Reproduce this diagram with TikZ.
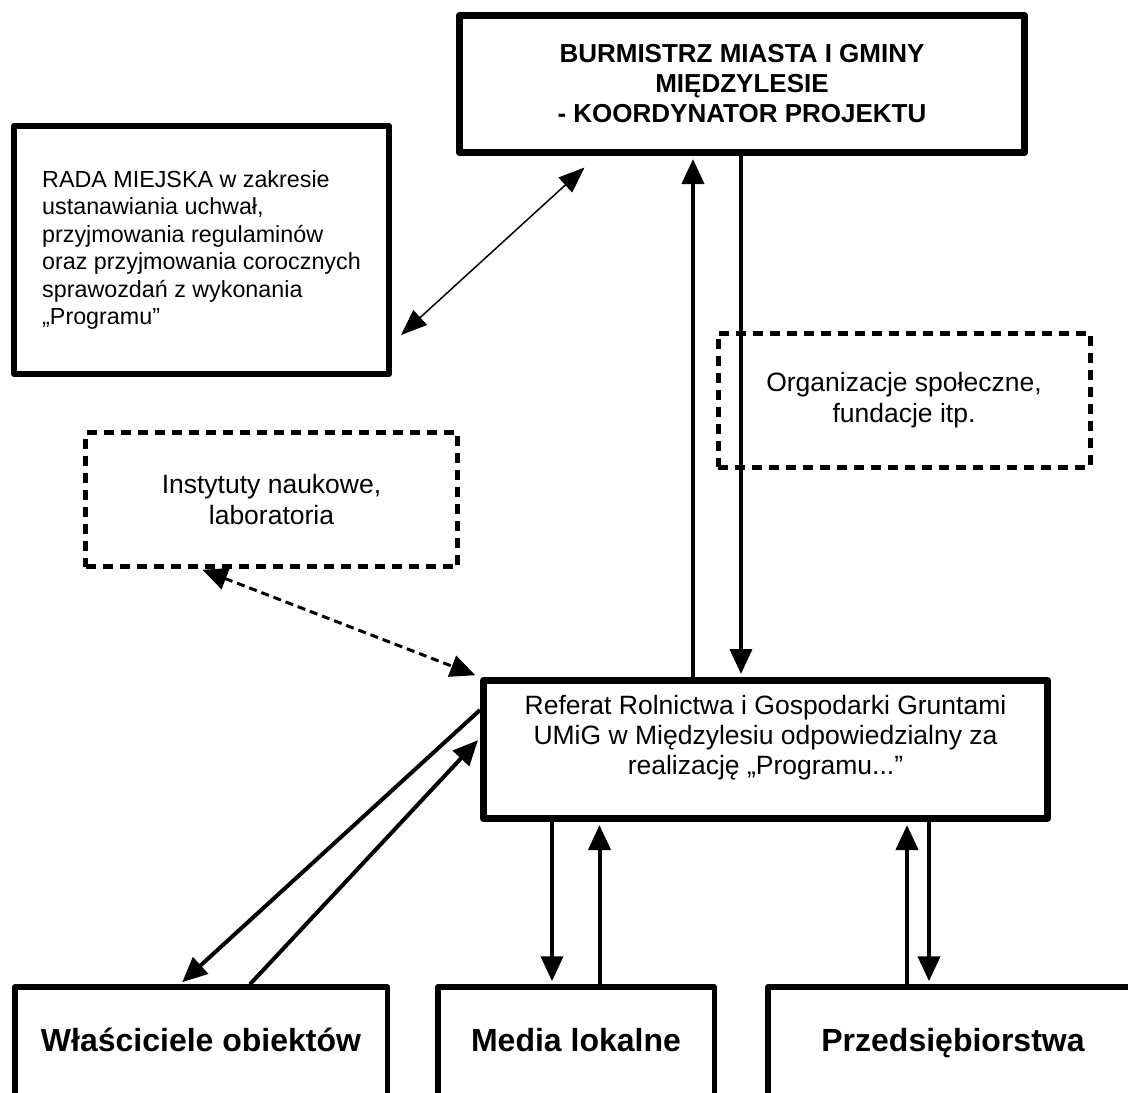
\documentclass[tikz,border=0pt]{standalone}
\usepackage{fontspec}
\setmainfont{Liberation Sans}
\usetikzlibrary{arrows.meta,calc}

\begin{document}
\begin{tikzpicture}[
    x=1pt, y=-1pt,
    >={Triangle[length=25pt,width=22pt]},
    box/.style={draw, line width=#1, line join=round, align=center, inner sep=0pt},
    dotbox/.style={draw, line width=5pt, dash pattern=on 10pt off 7pt,
      align=center, inner sep=0pt, minimum width=372pt, minimum height=134pt,
      font=\fontsize{26.5}{31}\selectfont},
    lowbox/.style={box=5.5pt, minimum height=113pt, text height=23pt, text depth=7pt,
      font=\bfseries\fontsize{32}{36}\selectfont},
    arr/.style={->, line width=4pt, shorten >=3pt}
  ]
  \useasboundingbox (0,0) rectangle (1128,1093);
  \clip (0,0) rectangle (1128,1093);
  % Top
  \node[box=7pt, minimum width=565pt, minimum height=137pt,
    font=\bfseries\fontsize{26}{30}\selectfont] (bur) at (742,84)
    {BURMISTRZ MIASTA I GMINY\\MIĘDZYLESIE\\- KOORDYNATOR PROJEKTU};
  \node[box=6pt, minimum width=375pt, minimum height=248pt,
    align=left, font=\fontsize{23.3}{27.5}\selectfont] (rada) at (201.5,250)
    {RADA MIEJSKA w zakresie\\ustanawiania uchwał,\\przyjmowania regulaminów\\oraz przyjmowania corocznych\\sprawozdań z wykonania\\„Programu”};
  % Dashed boxes
  \node[dotbox] (org) at (904,400) {Organizacje społeczne,\\fundacje itp.};
  \node[dotbox] (inst) at (271.5,499.5) {Instytuty naukowe,\\laboratoria};
  % Middle
  \node[box=7pt, minimum width=564pt, minimum height=138pt, text depth=29pt,
    font=\fontsize{26.5}{30}\selectfont] (ref) at (765.5,749.5)
    {Referat Rolnictwa i Gospodarki Gruntami\\UMiG w Międzylesiu odpowiedzialny za\\realizację „Programu...”};
  % Bottom
  \node[lowbox, minimum width=372.5pt] (wla) at (201,1043.5) {Właściciele obiektów};
  \node[lowbox, minimum width=276.5pt] (med) at (576,1043.5) {Media lokalne};
  \node[lowbox, minimum width=370.5pt] (prz) at (953,1043.5) {Przedsiębiorstwa};
  % Arrows
  \draw[<->, line width=1.5pt, >={Triangle[length=26pt,width=20pt]}]
    ([xshift=9pt,yshift=42pt]rada.south east) -- ([xshift=128.5pt,yshift=-11.5pt]bur.south west);
  \draw[arr] ([xshift=-72.5pt]ref.north) -- ([xshift=-72.5pt]ref.north |- bur.south);
  \draw[arr] ([xshift=-24.5pt]ref.north |- bur.south) -- ([xshift=-24.5pt]ref.north);
  \draw[<->, line width=3pt, dash pattern=on 8pt off 5pt, shorten <=2pt, shorten >=5pt]
    ([xshift=117.5pt]inst.south west) -- (ref.north west);
  \draw[arr] ([yshift=39.5pt]ref.west) -- ([xshift=-21pt]wla.north);
  \draw[arr] ([xshift=49pt]wla.north) -- ([yshift=11.5pt]ref.west);
  \draw[arr] ([xshift=-24pt]med.north |- ref.south) -- ([xshift=-24pt]med.north);
  \draw[arr] ([xshift=23.5pt]med.north) -- ([xshift=23.5pt]med.north |- ref.south);
  \draw[arr] ([xshift=-46pt]prz.north) -- ([xshift=-46pt]prz.north |- ref.south);
  \draw[arr] ([xshift=-24pt]prz.north |- ref.south) -- ([xshift=-24pt]prz.north);
\end{tikzpicture}
\end{document}
